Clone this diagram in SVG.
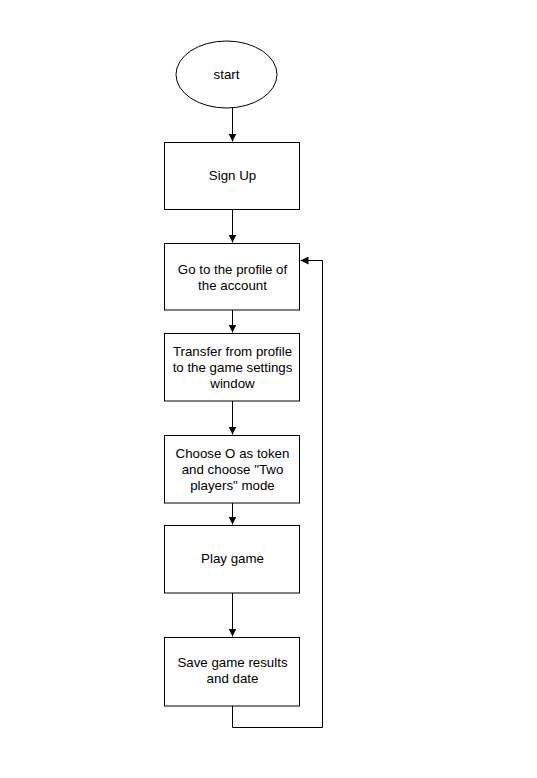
<svg xmlns="http://www.w3.org/2000/svg" width="537" height="778" viewBox="0 0 537 778">
<defs>
<style>
.n{fill:#ffffff;stroke:#000000;stroke-width:1}
.t{font-family:"Liberation Sans",Arial,sans-serif;font-size:13.3px;fill:#000000;text-anchor:middle}
.c{fill:none;stroke:#000000;stroke-width:1}
</style>
<marker id="ah" viewBox="0 0 10 10" refX="10" refY="5" markerWidth="8" markerHeight="8" markerUnits="userSpaceOnUse" orient="auto">
<path d="M0,0 L10,5 L0,10 Z" fill="#000000"/>
</marker>
</defs>
<rect width="537" height="778" fill="#ffffff"/>
<g id="connectors">
<path class="c" d="M232.5,108 V141.5" marker-end="url(#ah)"/>
<path class="c" d="M232.5,210 V242.5" marker-end="url(#ah)"/>
<path class="c" d="M232.5,310 V332.5" marker-end="url(#ah)"/>
<path class="c" d="M232.5,401 V434.5" marker-end="url(#ah)"/>
<path class="c" d="M232.5,503 V524.5" marker-end="url(#ah)"/>
<path class="c" d="M232.5,593 V636.5" marker-end="url(#ah)"/>
<path class="c" d="M232.5,706 V727.5 H322.5 V260.5 H300.5" marker-end="url(#ah)"/>
</g>
<g id="start">
<ellipse class="n" cx="226.5" cy="74.5" rx="50.5" ry="33.5"/>
<text class="t" x="226.5" y="78.5">start</text>
</g>
<g id="signup">
<rect class="n" x="164.5" y="142.5" width="135" height="67"/>
<text class="t" x="232.5" y="180">Sign Up</text>
</g>
<g id="profile">
<rect class="n" x="164.5" y="243.5" width="135" height="66.5"/>
<text class="t" x="232.5" y="274">Go to the profile of</text>
<text class="t" x="232.5" y="290">the account</text>
</g>
<g id="transfer">
<rect class="n" x="164.5" y="333.5" width="135" height="67.5"/>
<text class="t" x="232.5" y="356">Transfer from profile</text>
<text class="t" x="232.5" y="372">to the game settings</text>
<text class="t" x="232.5" y="388">window</text>
</g>
<g id="choose">
<rect class="n" x="164.5" y="435.5" width="135" height="67.5"/>
<text class="t" x="232.5" y="457.5">Choose O as token</text>
<text class="t" x="232.5" y="473.5">and choose "Two</text>
<text class="t" x="232.5" y="489.5">players" mode</text>
</g>
<g id="play">
<rect class="n" x="164.5" y="525.5" width="135" height="67.5"/>
<text class="t" x="232.5" y="562.5">Play game</text>
</g>
<g id="save">
<rect class="n" x="164.5" y="637.5" width="135" height="68.5"/>
<text class="t" x="232.5" y="667">Save game results</text>
<text class="t" x="232.5" y="683">and date</text>
</g>
</svg>
